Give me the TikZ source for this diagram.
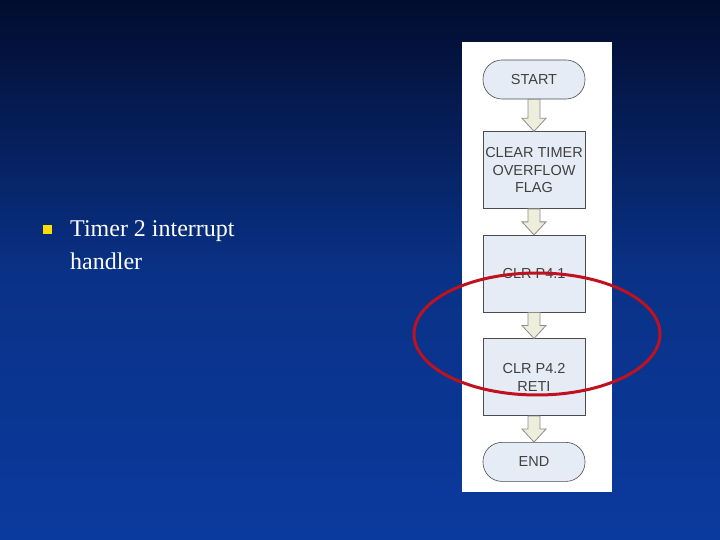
\documentclass[tikz,border=0pt]{standalone}
\usepackage{fontspec}
\setmainfont{Liberation Serif}
\newfontfamily\boxfont{Liberation Sans}
\usetikzlibrary{positioning}
\usetikzlibrary{calc}
\definecolor{slidetop}{HTML}{020C2E}
\definecolor{slidebottom}{HTML}{0B3A9E}
\definecolor{boxfill}{HTML}{E6ECF6}
\definecolor{arrowfill}{HTML}{EDEEDC}
\definecolor{ringred}{HTML}{C0111E}
\tikzset{
  box/.style      = { rectangle, minimum width=102pt, minimum height=77pt, align=center, inner xsep=1pt },
  border/.style   = { draw=black!70, line width=0.6pt, fill=boxfill },
  terminal/.style = { box, border, rounded corners=19pt, minimum height=39pt },
  process/.style  = { box, border },
  flowtext/.style = { font=\boxfont\fontsize{14.5}{17.5}\selectfont, text=black!75 },
}
\newcommand\flowarrow[2]{%
  \draw [fill=arrowfill, draw=black!45, line width=0.8pt]
        ($ (#1.south) + (-6pt,0) $) -- ($ (#2.north) + (-6pt,13pt) $)
        -- ++(-6pt,0) -- (#2.north) -- ++(12pt,13pt) -- ++(-6pt,0)
        -- ($ (#1.south) + (6pt,0) $) -- cycle;}
\begin{document}
\begin{tikzpicture}[x=1pt,y=1pt,node distance=26pt]
  \useasboundingbox (0,0) rectangle (720,540);
  \shade [top color=slidetop, bottom color=slidebottom, middle color=slidebottom!85!black] (0,0) rectangle (720,540);

  % bullet text
  \fill [yellow!80!orange] (42.5,305.5) rectangle ++(9,9);
  \node (txt) [anchor=north west, align=left, text=white, font=\fontsize{24}{33}\selectfont,
               inner sep=0pt] at (70,320) {Timer 2 interrupt\\handler};

  % flowchart panel
  \fill [white] (462,48) rectangle (612,498);
  \node (start) [terminal,flowtext] at (534,460.5) {START};
  \node (clear) [process,flowtext,below=32pt of start] {CLEAR TIMER\\OVERFLOW\\FLAG};
  \node (clr1)  [process,flowtext,below=of clear] {CLR P4.1};
  \node (clr2)  [process,flowtext,below=of clr1]  {CLR P4.2\\RETI};
  \node (end)   [terminal,flowtext,below=of clr2] {END};

  \flowarrow{start}{clear}
  \flowarrow{clear}{clr1}
  \flowarrow{clr1}{clr2}
  \flowarrow{clr2}{end}

  % highlight
  \draw [ringred, line width=3pt] (537,206) ellipse (123pt and 61pt);
\end{tikzpicture}
\end{document}
